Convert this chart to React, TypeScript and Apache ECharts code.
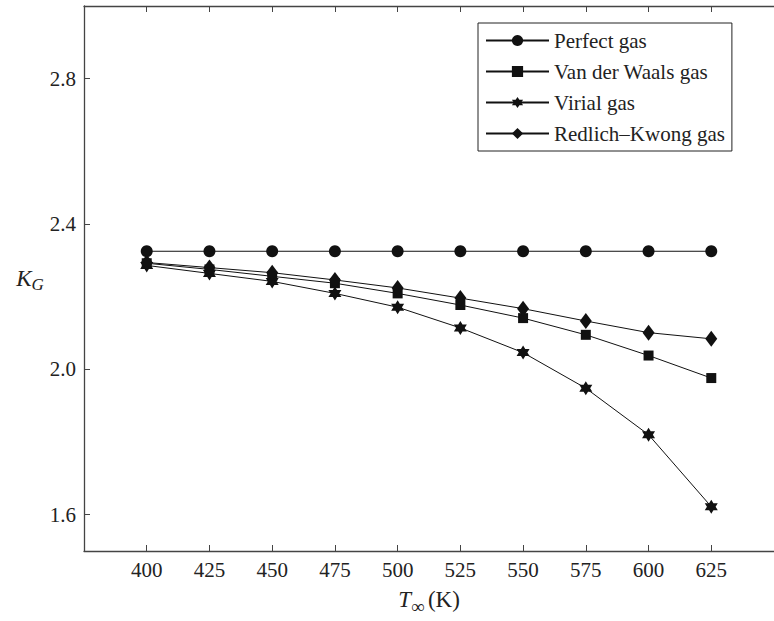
import React, { useEffect, useRef } from 'react';
import * as echarts from 'echarts';

const temps = [400, 425, 450, 475, 500, 525, 550, 575, 600, 625];
const perfectGas = [2.325, 2.325, 2.325, 2.325, 2.325, 2.325, 2.325, 2.325, 2.325, 2.325];
const vanDerWaals = [2.292, 2.275, 2.256, 2.237, 2.209, 2.177, 2.141, 2.095, 2.038, 1.976];
const virialGas = [2.286, 2.264, 2.242, 2.209, 2.171, 2.114, 2.046, 1.948, 1.82, 1.622];
const redlichKwong = [2.294, 2.28, 2.266, 2.246, 2.224, 2.196, 2.167, 2.133, 2.101, 2.084];
const xTicks = [400, 425, 450, 475, 500, 525, 550, 575, 600, 625];
const yTicks = [1.6, 2.0, 2.4, 2.8];

// six-pointed star as one outline
const STAR =
    'path://M0,-10L2.887,-5L8.66,-5L5.774,0L8.66,5L2.887,5L0,10L-2.887,5L-8.66,5L-5.774,0L-8.66,-5L-2.887,-5Z';
const FONT = 'Liberation Serif';

const pairs = (ys: number[]) => temps.map((t, i) => [t, ys[i]]);

const App: React.FC = () => {
    const chartRef = useRef<HTMLDivElement>(null);

    useEffect(() => {
        if (!chartRef.current) return;
        const chart = echarts.init(chartRef.current, null, { renderer: 'svg' });

        const lineSeries = (name: string, ys: number[], symbol: string, size: number | number[]) => ({
            name,
            type: 'line',
            data: pairs(ys),
            symbol,
            symbolSize: size,
            itemStyle: { color: '#111' },
            lineStyle: { color: '#111', width: 1 },
        });

        chart.setOption({
            animation: false,
            backgroundColor: '#fff',
            grid: { left: 84, top: 6, width: 700, height: 551 },
            legend: {
                orient: 'vertical',
                left: 478,
                top: 23,
                padding: [7, 7, 7, 7],
                itemWidth: 63,
                itemHeight: 14,
                itemGap: 10,
                borderColor: '#222',
                borderWidth: 1,
                textStyle: { fontFamily: FONT, fontSize: 21, color: '#222', lineHeight: 21 },
                data: ['Perfect gas', 'Van der Waals gas', 'Virial gas', 'Redlich–Kwong gas'],
            },
            xAxis: [
                {
                    type: 'value',
                    min: 375,
                    max: 650,
                    position: 'bottom',
                    splitLine: { show: false },
                    axisLine: { lineStyle: { color: '#444', width: 1.3 } },
                    axisTick: { inside: true, length: 6, customValues: xTicks, lineStyle: { color: '#444' } },
                    axisLabel: { customValues: xTicks, margin: 8, fontFamily: FONT, fontSize: 21, color: '#222' },
                    name: '{t|T}{s|∞} {n|(K)}',
                    nameLocation: 'middle',
                    nameGap: 32,
                    nameTextStyle: {
                        rich: {
                            t: { fontFamily: FONT, fontSize: 23, fontStyle: 'italic', color: '#222' },
                            s: { fontFamily: FONT, fontSize: 19, color: '#222', padding: [14, 0, 0, 0] },
                            n: { fontFamily: FONT, fontSize: 23, color: '#222' },
                        },
                    },
                },
                {
                    type: 'value',
                    min: 375,
                    max: 650,
                    position: 'top',
                    splitLine: { show: false },
                    axisLine: { lineStyle: { color: '#444', width: 1.3 } },
                    axisTick: { inside: true, length: 6, customValues: xTicks, lineStyle: { color: '#444' } },
                    axisLabel: { show: false },
                },
            ],
            yAxis: {
                type: 'value',
                min: 1.5,
                max: 3.0,
                splitLine: { show: false },
                axisLine: { show: true, lineStyle: { color: '#444', width: 1.3 } },
                axisTick: { show: true, inside: true, length: 6, customValues: yTicks, lineStyle: { color: '#444' } },
                axisLabel: {
                    customValues: yTicks,
                    margin: 8,
                    fontFamily: FONT,
                    fontSize: 21,
                    color: '#222',
                    formatter: (v: number) => v.toFixed(1),
                },
                name: '{k|K}{g|G}',
                nameLocation: 'middle',
                nameRotate: 0,
                nameGap: 40,
                nameTextStyle: {
                    rich: {
                        k: { fontFamily: FONT, fontSize: 23, fontStyle: 'italic', color: '#222' },
                        g: { fontFamily: FONT, fontSize: 17, fontStyle: 'italic', color: '#222', padding: [12, 0, 0, 0] },
                    },
                },
            },
            series: [
                lineSeries('Perfect gas', perfectGas, 'circle', 12),
                lineSeries('Van der Waals gas', vanDerWaals, 'rect', 10),
                lineSeries('Virial gas', virialGas, STAR, [13, 14]),
                lineSeries('Redlich–Kwong gas', redlichKwong, 'diamond', [12, 16]),
            ],
        });

        return () => {
            chart.dispose();
        };
    }, []);

    return (
        <div
            ref={chartRef}
            style={{ position: 'absolute', left: 0, top: 0, width: 774, height: 621 }}
        />
    );
};

export default App;
